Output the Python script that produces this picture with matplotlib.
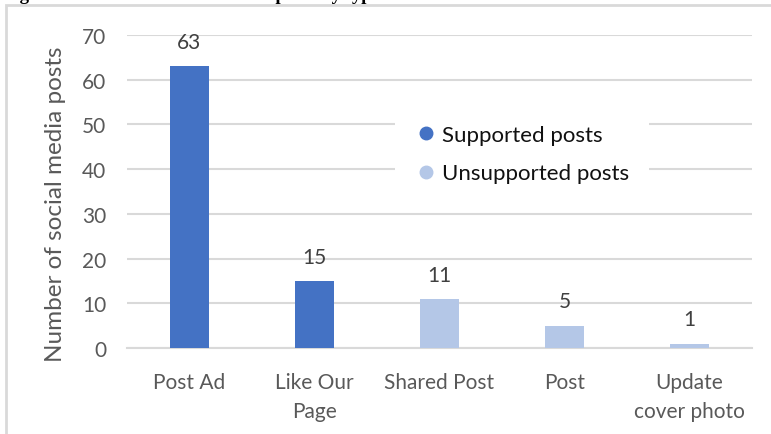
import matplotlib
matplotlib.use('Agg')
import matplotlib.pyplot as plt
from matplotlib.lines import Line2D
from matplotlib.patches import Rectangle

# data
categories = ['Post Ad', 'Like Our\nPage', 'Shared Post', 'Post', 'Update\ncover photo']
counts = [63, 15, 11, 5, 1]
supported = [True, True, False, False, False]
y_ticks = [0, 10, 20, 30, 40, 50, 60, 70]

col_sup = '#4472C4'
col_unsup = '#B4C7E7'
grid_col = '#D9D9D9'
txt_col = '#595959'

plt.rcParams['font.family'] = ['Lato', 'DejaVu Sans']

fig = plt.figure(figsize=(7.71, 4.35), dpi=100)

# chart border (runs off the right and bottom of the picture)
fig.patches.append(Rectangle((6 / 771, -0.05), 1.0, 1 - 6 / 435 + 0.05,
                             transform=fig.transFigure, fill=False,
                             edgecolor=grid_col, linewidth=2))

# caption above the chart, cut off by the top edge as in the reference
fig.text(3 / 771, 1.0 + 0.5 / 435, 'Figure 3: Number of social media posts by type',
         family='Liberation Serif', fontweight='bold', fontsize=13.5,
         va='baseline', ha='left')

ax = fig.add_axes([127 / 771, 1 - 349 / 435, 625 / 771, 313 / 435])

x = list(range(len(categories)))
colors = [col_sup if s else col_unsup for s in supported]
ax.bar(x, counts, width=0.31, color=colors, zorder=3)

for xi, v in zip(x, counts):
    ax.annotate(str(v), (xi, v), xytext=(0, 17.5), textcoords='offset points',
                ha='center', va='center', fontsize=15, color='#404040')

ax.set_xlim(-0.5, 4.5)
ax.set_ylim(0, 70)
ax.set_yticks(y_ticks)
ax.set_xticks(x)
ax.set_xticklabels(categories, linespacing=1.6)
ax.tick_params(axis='both', length=0, labelsize=15, labelcolor=txt_col)
ax.tick_params(axis='y', pad=15)
ax.tick_params(axis='x', pad=17)

ax.grid(axis='y', color=grid_col, linewidth=1.5, zorder=0)
for s in ['top', 'right', 'left']:
    ax.spines[s].set_visible(False)
ax.spines['bottom'].set_color(grid_col)
ax.spines['bottom'].set_linewidth(1.5)

fig.text(56 / 771, 1 - 204 / 435, 'Number of social media posts', rotation=90,
         ha='center', va='center', fontsize=17.5, color=txt_col)

handles = [Line2D([], [], marker='o', linestyle='none', markersize=9,
                  markerfacecolor=col_sup, markeredgecolor=col_sup),
           Line2D([], [], marker='o', linestyle='none', markersize=9,
                  markerfacecolor=col_unsup, markeredgecolor=col_unsup)]
leg = ax.legend(handles, ['Supported posts', 'Unsupported posts'],
                loc='center left', bbox_to_anchor=(395 / 771, 1 - 155 / 435),
                bbox_transform=fig.transFigure, fontsize=16, frameon=True,
                framealpha=1, edgecolor='none', facecolor='white',
                handletextpad=0.2, handlelength=1.0, labelspacing=0.85,
                borderpad=0.9, borderaxespad=0)
for t in leg.get_texts():
    t.set_color('#111111')

fig.savefig('out.png', dpi=100)
